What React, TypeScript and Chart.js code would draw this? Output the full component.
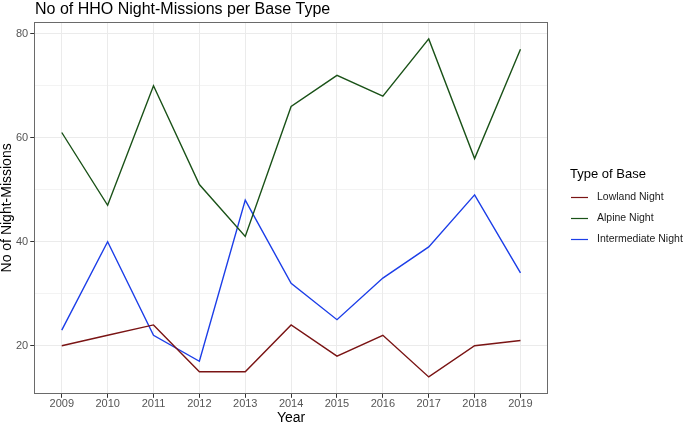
import React, { useEffect, useRef } from "react";
import { Chart, registerables } from "chart.js";

Chart.register(...registerables);

const years = [2009, 2010, 2011, 2012, 2013, 2014, 2015, 2016, 2017, 2018, 2019];
const lowlandNight = [20, 22, 24, 15, 15, 24, 18, 22, 14, 20, 21];
const alpineNight = [61, 47, 70, 51, 41, 66, 72, 68, 79, 56, 77];
const intermediateNight = [23, 40, 22, 17, 48, 32, 25, 33, 39, 49, 34];
const seriesNames = ["Lowland Night", "Alpine Night", "Intermediate Night"];
const seriesColors = ["#7a1414", "#1a5218", "#1c3ee8"];
const yTicks = [20, 30, 40, 50, 60, 70, 80];
const chartTitle = "No of HHO Night-Missions per Base Type";
const legendTitle = "Type of Base";

const FONT = "'Liberation Sans', Arial, Helvetica, sans-serif";

const panelPlugin = {
  id: "panelAndLegend",
  afterDraw(chart: any) {
    const { ctx, chartArea } = chart;
    ctx.save();
    ctx.strokeStyle = "#6a6a6a";
    ctx.lineWidth = 1;
    ctx.strokeRect(
      Math.round(chartArea.left) + 0.5,
      Math.round(chartArea.top) + 0.5,
      Math.round(chartArea.right - chartArea.left) - 1,
      Math.round(chartArea.bottom - chartArea.top) - 1
    );
    // title
    ctx.fillStyle = "#000";
    ctx.font = `16px ${FONT}`;
    ctx.textAlign = "left";
    ctx.textBaseline = "alphabetic";
    ctx.fillText(chartTitle, 35, 14);
    // legend
    ctx.font = `13px ${FONT}`;
    ctx.textBaseline = "middle";
    ctx.fillText(legendTitle, 570, 174);
    ctx.font = `10.5px ${FONT}`;
    seriesNames.forEach((name, i) => {
      const y = 197.5 + i * 21;
      ctx.strokeStyle = seriesColors[i];
      ctx.lineWidth = 1.2;
      ctx.beginPath();
      ctx.moveTo(571, y);
      ctx.lineTo(588, y);
      ctx.stroke();
      ctx.fillStyle = "#1a1a1a";
      ctx.fillText(name, 597, y);
    });
    ctx.restore();
  },
};

export default function App() {
  const ref = useRef<HTMLCanvasElement>(null);
  useEffect(() => {
    document.body.style.margin = "0";
    const datasets = [lowlandNight, alpineNight, intermediateNight].map((vals, i) => ({
      label: seriesNames[i],
      data: vals.map((v, j) => ({ x: years[j], y: v })),
      borderColor: seriesColors[i],
      backgroundColor: seriesColors[i],
      borderWidth: 1.4,
      pointRadius: 0,
      tension: 0,
      fill: false,
    }));
    const chart = new Chart(ref.current!, {
      type: "line",
      data: { datasets },
      plugins: [panelPlugin],
      options: {
        animation: false,
        responsive: false,
        layout: { padding: { left: 0, right: 137, top: 22, bottom: 0 } },
        plugins: {
          legend: { display: false },
          tooltip: { enabled: false },
          title: { display: false },
        },
        scales: {
          x: {
            type: "linear",
            min: 2008.4,
            max: 2019.6,
            afterBuildTicks(scale: any) {
              scale.ticks = years.map((y) => ({ value: y }));
            },
            ticks: {
              color: "#555",
              font: { family: FONT, size: 11 },
              padding: 0,
              maxRotation: 0,
              autoSkip: false,
              callback: (v: any) => String(v),
            },
            grid: {
              color: "#ebebeb",
              lineWidth: 1,
              tickColor: "#333",
              tickLength: 4,
              drawTicks: true,
            },
            border: { display: false },
            title: {
              display: true,
              text: "Year",
              color: "#000",
              font: { family: FONT, size: 14, lineHeight: 1 },
              padding: { top: 0, bottom: 0 },
            },
          },
          y: {
            type: "linear",
            min: 10.75,
            max: 82.25,
            afterBuildTicks(scale: any) {
              scale.ticks = yTicks.map((v) => ({ value: v }));
            },
            ticks: {
              color: "#555",
              font: { family: FONT, size: 11 },
              padding: 2,
              autoSkip: false,
              callback: (v: any) => (Number(v) % 20 === 0 ? String(v) : ""),
            },
            grid: {
              color: "#ebebeb",
              lineWidth: (c: any) => (c.tick && c.tick.value % 20 === 0 ? 1 : 0.6),
              tickColor: (c: any) => (c.tick && c.tick.value % 20 === 0 ? "#333" : "rgba(0,0,0,0)"),
              tickLength: 4,
              drawTicks: true,
            },
            border: { display: false },
            title: {
              display: true,
              text: "No of Night-Missions",
              color: "#000",
              font: { family: FONT, size: 14, lineHeight: 1 },
              padding: { top: 0, bottom: 0 },
            },
          },
        },
      } as any,
    });
    return () => chart.destroy();
  }, []);
  return (
    <div style={{ width: 685, height: 425, background: "#fff" }}>
      <canvas ref={ref} width={685} height={425} />
    </div>
  );
}
